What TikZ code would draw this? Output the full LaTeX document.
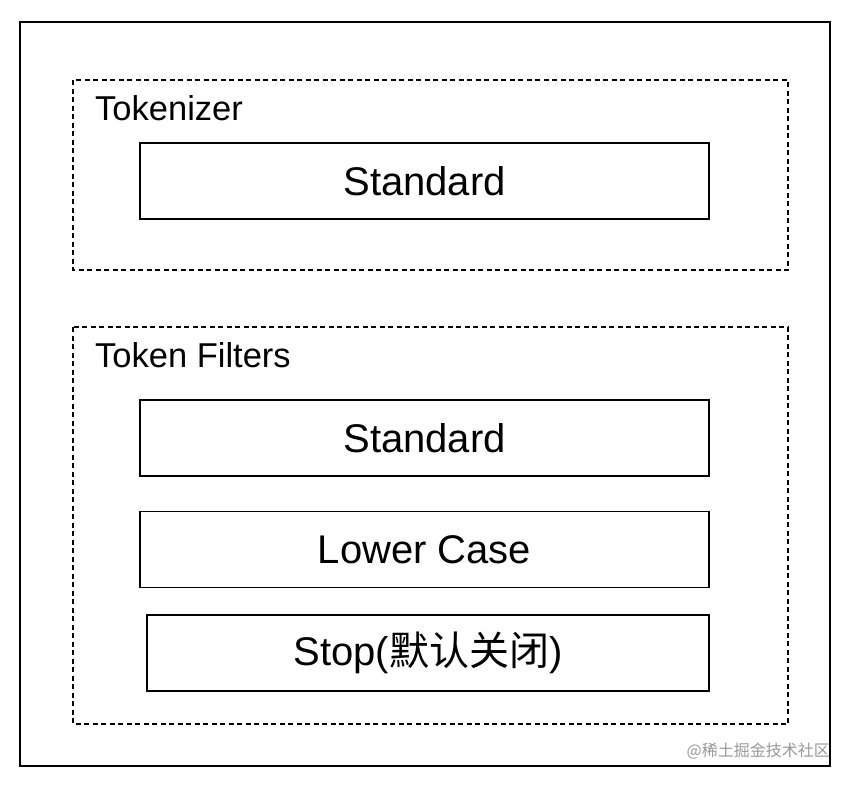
\documentclass[tikz,border=0pt]{standalone}
\usepackage{fontspec}
\setmainfont{Liberation Sans}
\newfontfamily\cjk{Noto Sans CJK SC}
\begin{document}
\begin{tikzpicture}[x=1pt,y=-1pt,
  box/.style={draw,line width=1.6pt,minimum width=569pt,minimum height=76pt,inner sep=0pt,font=\fontsize{40}{42}\selectfont},
  grp/.style={draw,line width=1.4pt,dash pattern=on 5pt off 3.5pt},
  lab/.style={anchor=west,inner sep=0pt,font=\fontsize{34.5}{37}\selectfont}]
\useasboundingbox (0,0) rectangle (850,784);
\fill[white] (0,0) rectangle (850,784);
\draw[line width=1.6pt] (20,22) rectangle (830,766);
\draw[grp] (73,80) rectangle (788,270);
\node[lab] (tl) at (95,108) {Tokenizer};
\node[box] (t1) at (424.5,181) {Standard};
\draw[grp] (73,327) rectangle (788,724);
\node[lab] (fl) at (95,355) {Token Filters};
\node[box] (f1) at (424.5,438) {Standard};
\node[box] (f2) at (424.5,549.5) {Lower Case};
\node[box,minimum width=562pt] (f3) at (428,653) {Stop({\cjk 默认关闭})};
\node[anchor=east,inner sep=0pt,text=gray!80,font=\cjk\fontsize{16}{18}\selectfont] (wm) at (830,751) {@稀土掘金技术社区};
\end{tikzpicture}
\end{document}
